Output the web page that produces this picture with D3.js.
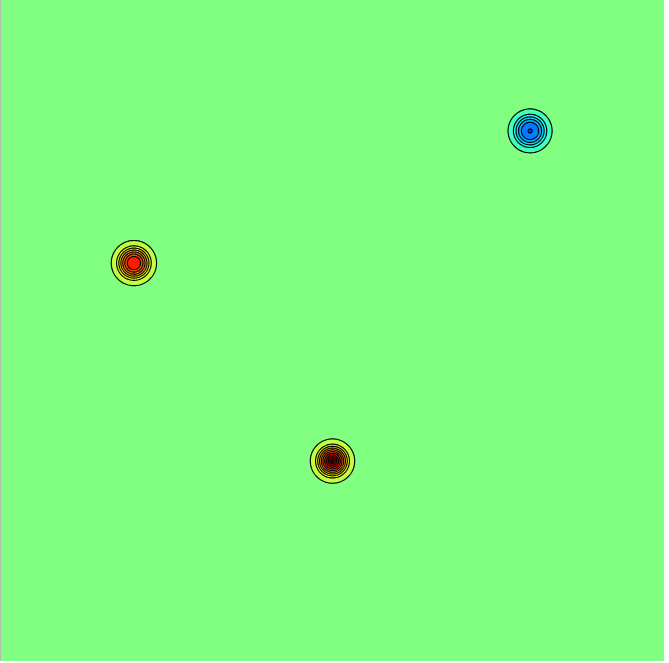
<!DOCTYPE html>
<html>
<head>
<meta charset="utf-8">
<script src="https://cdn.jsdelivr.net/npm/d3@7"></script>
<style>
  html, body { margin: 0; padding: 0; background: #fff; }
  svg { display: block; }
</style>
</head>
<body>
<script>
// ---- data (data units 0..100 on both axes) ----
const blobX      = [50.0, 20.05, 79.8];     // centre x
const blobY      = [30.25, 60.2, 80.2];     // centre y
const blobSign   = [1, 1, -1];              // peak (+) or trough (-)
const blobPeak   = [12, 7.0, 5.1];          // level at which the top flattens
const blobRadius = [2.72, 2.81, 2.80];      // radius of the cone base
const blobSlope  = [3.89, 3.57, 2.95];      // levels per data unit
const blobEdge   = 0.2266;                  // softness of the base (data units)

const posLevels = [0.06, 1, 2, 3, 4, 5, 6, 7, 8, 9, 10];
const negLevels = [0.06, 1, 2, 3, 4, 5];

// ---- layout ----
const W = 669, H = 663;
const mLeft = 1, mTop = 0, mRight = 664, mBottom = 661;
const nx = mRight - mLeft, ny = mBottom - mTop;

const x = d3.scaleLinear().domain([0, 100]).range([mLeft, mRight]);
const y = d3.scaleLinear().domain([0, 100]).range([mBottom, mTop]);

function jet(t) {
  t = Math.max(0, Math.min(1, t));
  const c = v => Math.round(255 * Math.max(0, Math.min(1, v)));
  const r = 1.5 - Math.abs(4 * t - 3);
  const g = 1.5 - Math.abs(4 * t - 2);
  const b = 1.5 - Math.abs(4 * t - 1);
  return `rgb(${c(r)},${c(g)},${c(b)})`;
}

function softplus(z) { return z > 30 ? z : Math.log1p(Math.exp(z)); }
function softmin(a, b) {
  const m = Math.min(a, b);
  return m - Math.log(Math.exp(m - a) + Math.exp(m - b));
}

function field(xd, yd) {
  let v = 0;
  for (let k = 0; k < blobX.length; k++) {
    const r = Math.hypot(xd - blobX[k], yd - blobY[k]);
    const cone = blobSlope[k] * blobEdge * softplus((blobRadius[k] - r) / blobEdge);
    v += blobSign[k] * softmin(cone, blobPeak[k]);
  }
  return v;
}

const values = new Float64Array(nx * ny);
for (let j = 0; j < ny; j++) {
  const yd = y.invert(mTop + j + 0.5);
  for (let i = 0; i < nx; i++) {
    const xd = x.invert(mLeft + i + 0.5);
    values[j * nx + i] = field(xd, yd);
  }
}
const negValues = values.map(v => -v);

const svg = d3.select("body").append("svg")
  .attr("width", W).attr("height", H);

svg.append("rect").attr("x", 0).attr("y", 0).attr("width", W).attr("height", H).attr("fill", "#fff");

svg.append("rect")
  .attr("x", x(0)).attr("y", y(100))
  .attr("width", x(100) - x(0)).attr("height", y(0) - y(100))
  .attr("fill", jet(0.5));

svg.append("line")
  .attr("x1", x(0) - 0.5).attr("x2", x(0) - 0.5)
  .attr("y1", y(100)).attr("y2", y(0))
  .attr("stroke", "#b8b8b8").attr("stroke-width", 1);

const path = d3.geoPath();
const g = svg.append("g").attr("transform", `translate(${mLeft},${mTop})`);

const posC = d3.contours().size([nx, ny]).thresholds(posLevels)(values);
const negC = d3.contours().size([nx, ny]).thresholds(negLevels)(negValues);

g.selectAll("path.neg").data(negC).join("path")
  .attr("class", "neg")
  .attr("d", path)
  .attr("fill", (d, k) => jet(0.4375 - 0.048 * k))
  .attr("stroke", "#000").attr("stroke-width", 1.15);

g.selectAll("path.pos").data(posC).join("path")
  .attr("class", "pos")
  .attr("d", path)
  .attr("fill", (d, k) => jet(0.5625 + 0.048 * k))
  .attr("stroke", "#000").attr("stroke-width", 1.15);
</script>
</body>
</html>
